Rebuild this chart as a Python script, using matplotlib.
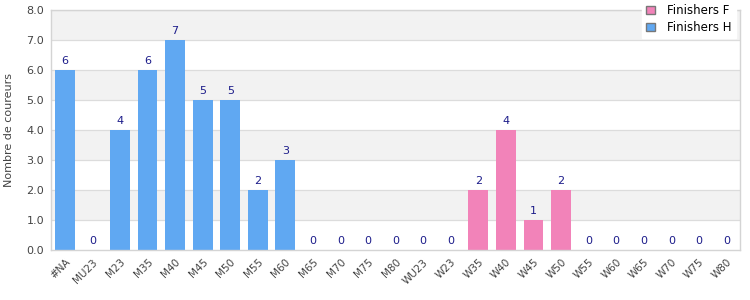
import numpy as np
import matplotlib
matplotlib.use('Agg')
import matplotlib.pyplot as plt
from matplotlib.patches import Patch

# Data
categories = ['#NA', 'MU23', 'M23', 'M35', 'M40', 'M45', 'M50', 'M55', 'M60', 'M65',
              'M70', 'M75', 'M80', 'WU23', 'W23', 'W35', 'W40', 'W45', 'W50', 'W55',
              'W60', 'W65', 'W70', 'W75', 'W80']
h_cats = categories[:15]
h_values = [6, 0, 4, 6, 7, 5, 5, 2, 3, 0, 0, 0, 0, 0, 0]
f_cats = categories[15:]
f_values = [2, 4, 1, 2, 0, 0, 0, 0, 0, 0]
y_ticks = [0, 1, 2, 3, 4, 5, 6, 7, 8]

blue = '#60a8f2'
pink = '#f283b9'
label_col = '#1c1c8a'

fig = plt.figure(figsize=(7.5, 3), dpi=100)
ax = fig.add_axes([0.068, 0.1667, 0.919, 0.80])

x = np.arange(len(categories))
pos = {c: i for i, c in enumerate(categories)}
hx = [pos[c] for c in h_cats]
fx = [pos[c] for c in f_cats]

# alternating bands
for lo in y_ticks[1::2]:
    ax.axhspan(lo, lo + 1, color='#f2f2f2', zorder=0, lw=0)
for t in y_ticks[1:]:
    ax.axhline(t, color='#dcdcdc', lw=0.9, zorder=1)

ax.bar(hx, h_values, width=0.72, color=blue, zorder=2)
ax.bar(fx, f_values, width=0.72, color=pink, zorder=2)

for xi, v in zip(hx + fx, h_values + f_values):
    ax.text(xi, v + 0.12, str(v), ha='center', va='bottom', fontsize=8, color=label_col, zorder=3)

ax.set_xlim(-0.5, len(categories) - 0.5)
ax.set_ylim(0, 8)
ax.set_yticks(y_ticks)
ax.set_yticklabels([f'{t:.1f}' for t in y_ticks], fontsize=8, color='#444444')
ax.set_xticks(x)
ax.set_xticklabels(categories, rotation=45, ha='right', rotation_mode='anchor', fontsize=7.5, color='#444444')
ax.tick_params(axis='both', length=0, pad=5)
ax.set_ylabel('Nombre de coureurs', fontsize=8, color='#444444', labelpad=9)

for s in ax.spines.values():
    s.set_color('#d4d4d4')
    s.set_linewidth(1)

handles = [Patch(facecolor=pink, edgecolor='#777777', label='Finishers F'),
           Patch(facecolor=blue, edgecolor='#777777', label='Finishers H')]
leg = fig.legend(handles=handles, loc='upper right', bbox_to_anchor=(0.981, 1.0), fontsize=8.5,
                 frameon=True, fancybox=False, edgecolor='white', framealpha=1,
                 handlelength=0.75, handleheight=0.75, borderpad=0.35, labelspacing=0.35,
                 handletextpad=1.0, borderaxespad=0)
leg.set_zorder(5)

fig.savefig('out.png', dpi=100)
